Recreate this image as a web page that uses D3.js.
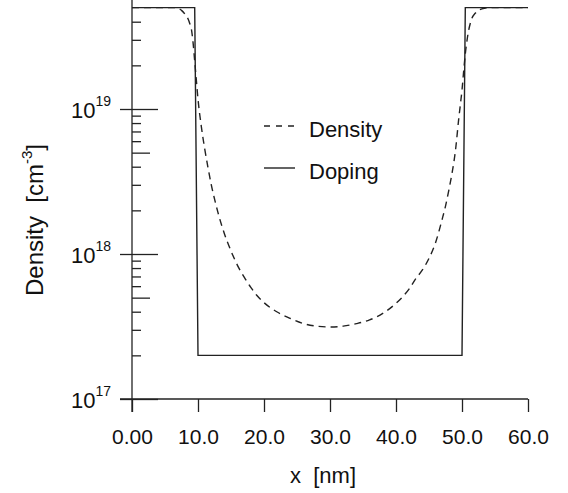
<!DOCTYPE html>
<html>
<head>
<meta charset="utf-8">
<script src="https://cdn.jsdelivr.net/npm/d3@7"></script>
<style>
  body { margin: 0; background: #fff; }
  svg { display: block; font-family: "Liberation Sans", Arial, Helvetica, sans-serif; }
  .ax line, .ax path { stroke: #222; stroke-width: 1.3; }
</style>
</head>
<body>
<div id="chart"></div>
<script>
// x positions in nm, values in cm^-3
var dopingX = [0, 9.5, 10, 50, 50.5, 60];
var dopingY = [5e19, 5e19, 2e17, 2e17, 5e19, 5e19];

var densityX = [0, 6.5, 7, 7.5, 8, 8.5, 8.75, 9, 9.25, 9.5, 9.75, 10, 10.5, 11, 11.5, 12, 12.5, 13,
    14, 15, 16, 17, 18, 19, 20, 22, 24, 26, 28, 30,
    32, 34, 36, 38, 40, 42, 43, 44, 45, 46, 47, 47.5, 48, 48.5, 49, 49.5, 49.75, 50,
    50.25, 50.5, 50.75, 51, 51.25, 51.5, 52, 52.5, 53, 54, 60];
var densityY = [5e19, 5e19, 4.95e19, 4.79e19, 4.52e19, 4.17e19, 3.89e19, 3.55e19, 2.88e19, 2.14e19, 1.58e19,
    1.17e19, 7.59e18, 5.37e18, 3.98e18, 3.02e18, 2.40e18, 1.95e18,
    1.38e18, 1.05e18, 8.32e17, 6.92e17, 5.89e17, 5.13e17, 4.62e17, 3.98e17, 3.59e17, 3.31e17, 3.18e17, 3.14e17,
    3.18e17, 3.31e17, 3.51e17, 3.89e17, 4.57e17, 5.75e17, 6.76e17, 7.76e17, 9.33e17, 1.20e18, 1.74e18,
    2.14e18, 2.75e18, 3.63e18, 5.13e18, 8.51e18, 1.07e19, 1.35e19,
    1.82e19, 2.40e19, 2.95e19, 3.47e19, 3.89e19, 4.22e19, 4.57e19, 4.79e19, 4.90e19, 5e19, 5e19];

var xTicks = [0, 10, 20, 30, 40, 50, 60];
var xTickLabels = ["0.00", "10.0", "20.0", "30.0", "40.0", "50.0", "60.0"];
var yMajor = [1e17, 1e18, 1e19];
var yMinor = [2e17, 3e17, 4e17, 6e17, 7e17, 8e17, 9e17,
              2e18, 3e18, 4e18, 6e18, 7e18, 8e18, 9e18,
              2e19, 3e19, 4e19];
var yMid = [5e17, 5e18];

var legendNames = ["Density", "Doping"];

var svgWidth = 568, svgHeight = 493;
var x = d3.scaleLinear().domain([0, 60]).range([132, 528]);
var y = d3.scaleLog().domain([1e17, Math.pow(10, 19 + 109 / 145)]).range([399, 0]);

var svg = d3.select("#chart").append("svg")
    .attr("width", svgWidth)
    .attr("height", svgHeight);

var ink = "#222";

// axis lines
svg.append("line")
    .attr("x1", x(0)).attr("x2", x(0)).attr("y1", 0).attr("y2", y(1e17) + 13)
    .attr("stroke", ink).attr("stroke-width", 1.3);
svg.append("line")
    .attr("x1", x(0) - 12).attr("x2", x(60)).attr("y1", y(1e17)).attr("y2", y(1e17))
    .attr("stroke", ink).attr("stroke-width", 1.3);

// x axis
var xAxis = svg.append("g").attr("class", "ax")
    .attr("transform", "translate(0," + y(1e17) + ")")
    .call(d3.axisBottom(x).tickValues(xTicks).tickSize(13).tickSizeOuter(0)
        .tickFormat(function (d, i) { return xTickLabels[i]; }));
xAxis.select(".domain").remove();
xAxis.selectAll("text")
    .attr("fill", "#111")
    .attr("y", 45)
    .attr("dy", 0)
    .style("font-size", "21px")
    .style("font-family", "Liberation Sans, Arial, sans-serif");

// y axis ticks
function yTicks(values, side, size) {
    var ax = side === "left" ? d3.axisLeft(y) : d3.axisRight(y);
    var g = svg.append("g").attr("class", "ax")
        .attr("transform", "translate(" + x(0) + ",0)")
        .call(ax.tickValues(values).tickSize(size).tickSizeOuter(0).tickFormat(""));
    g.select(".domain").remove();
}
yTicks(yMajor, "left", 12);
yTicks(yMajor, "right", 26);
yTicks(yMid, "right", 18);
yTicks(yMinor, "right", 9);

// y tick labels 10^n
svg.selectAll(".ylab").data(yMajor).enter().append("text")
    .attr("class", "ylab")
    .attr("x", 111)
    .attr("y", function (d) { return y(d) + 9; })
    .attr("text-anchor", "end")
    .attr("fill", "#111")
    .style("font-size", "22px")
    .text("10")
    .append("tspan")
    .attr("dy", -12)
    .style("font-size", "14px")
    .text(function (d) { return Math.round(Math.log10(d)); });

// lines
var line = d3.line()
    .x(function (d) { return x(d[0]); })
    .y(function (d) { return y(d[1]); });

svg.append("path")
    .datum(dopingX.map(function (d, i) { return [d, dopingY[i]]; }))
    .attr("fill", "none")
    .attr("stroke", ink)
    .attr("stroke-width", 1.4)
    .attr("d", line);

svg.append("path")
    .datum(densityX.map(function (d, i) { return [d, densityY[i]]; }))
    .attr("fill", "none")
    .attr("stroke", ink)
    .attr("stroke-width", 1.4)
    .attr("stroke-dasharray", "7,5")
    .attr("d", line.curve(d3.curveMonotoneX));

// legend
var legend = svg.append("g").attr("transform", "translate(264,126)");
legendNames.forEach(function (name, i) {
    var row = legend.append("g").attr("transform", "translate(0," + (i * 42) + ")");
    row.append("line")
        .attr("x1", 0).attr("x2", 31).attr("y1", 0).attr("y2", 0)
        .attr("stroke", ink).attr("stroke-width", 1.4)
        .attr("stroke-dasharray", i === 0 ? "6,6" : null);
    row.append("text")
        .attr("x", 45).attr("y", 11)
        .attr("fill", "#111")
        .style("font-size", "22px")
        .text(name);
});

// axis titles
svg.append("text")
    .attr("x", 323).attr("y", 483)
    .attr("text-anchor", "middle")
    .attr("fill", "#111")
    .style("font-size", "22px")
    .style("white-space", "pre")
    .text("x  [nm]");

var yt = svg.append("text")
    .attr("transform", "translate(43,220) rotate(-90)")
    .attr("text-anchor", "middle")
    .attr("fill", "#111")
    .style("font-size", "24px")
    .style("white-space", "pre");
yt.append("tspan").text("Density  [cm");
yt.append("tspan").attr("dy", -11).style("font-size", "15px").text("-3");
yt.append("tspan").attr("dy", 11).text("]");
</script>
</body>
</html>
